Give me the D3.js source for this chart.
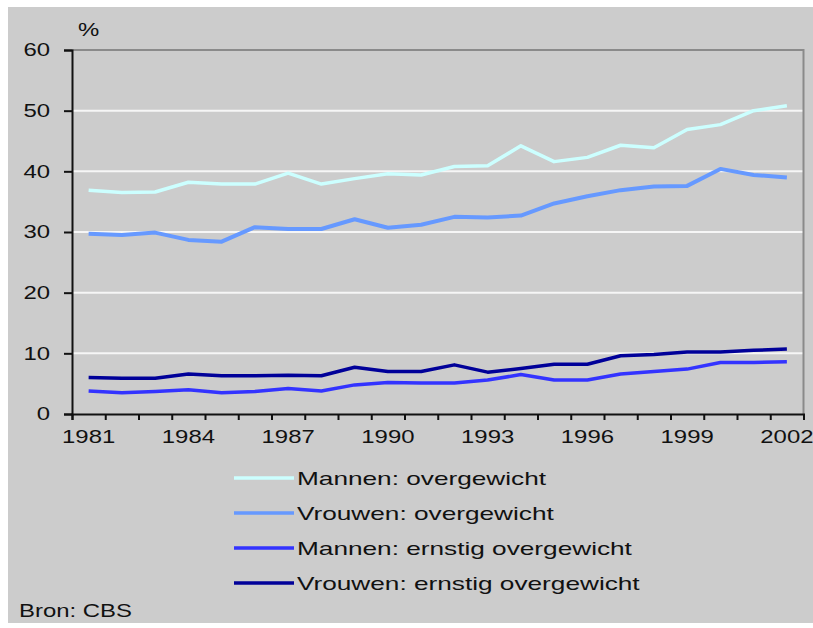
<!DOCTYPE html>
<html>
<head>
<meta charset="utf-8">
<script src="https://cdn.jsdelivr.net/npm/d3@7"></script>
<style>
  body { margin: 0; background: #fff; }
  text { font-family: "Liberation Sans", Arial, sans-serif; fill: #111; }
</style>
</head>
<body>
<div id="chart"></div>
<script>
// data
let years = d3.range(1981, 2003);
let yearLabels = [1981, 1984, 1987, 1990, 1993, 1996, 1999, 2002];
let yTicks = [0, 10, 20, 30, 40, 50, 60];

let mannenOvergewicht = [36.9, 36.5, 36.6, 38.2, 37.9, 37.9, 39.7, 37.9, 38.8, 39.6, 39.4,
                         40.8, 40.9, 44.2, 41.6, 42.3, 44.3, 43.9, 46.9, 47.7, 50.0, 50.8];
let vrouwenOvergewicht = [29.7, 29.5, 29.9, 28.7, 28.4, 30.8, 30.5, 30.5, 32.1, 30.7, 31.2,
                          32.5, 32.4, 32.7, 34.7, 35.9, 36.9, 37.5, 37.6, 40.4, 39.4, 39.0];
let mannenErnstig = [3.8, 3.5, 3.7, 4.0, 3.5, 3.7, 4.2, 3.8, 4.8, 5.2, 5.1,
                     5.1, 5.6, 6.5, 5.6, 5.6, 6.6, 7.0, 7.4, 8.5, 8.5, 8.6];
let vrouwenErnstig = [6.0, 5.9, 5.9, 6.6, 6.3, 6.3, 6.4, 6.3, 7.7, 7.0, 7.0,
                      8.1, 6.9, 7.5, 8.2, 8.2, 9.6, 9.8, 10.2, 10.2, 10.5, 10.7];

let seriesNames = ["Mannen: overgewicht", "Vrouwen: overgewicht",
                   "Mannen: ernstig overgewicht", "Vrouwen: ernstig overgewicht"];
let seriesColors = ["#ccffff", "#6699ff", "#3333ff", "#000099"];

let series = [mannenOvergewicht, vrouwenOvergewicht, mannenErnstig, vrouwenErnstig]
  .map((vals, i) => ({ name: seriesNames[i], color: seriesColors[i], values: vals }));

let width = 813, height = 628;
let plot = { left: 72, right: 803.5, top: 50, bottom: 414 };
let stretch = 1.33; // the original text is drawn horizontally stretched

let svg = d3.select("#chart")
  .append("svg")
  .attr("width", width)
  .attr("height", height);

// gray panel
svg.append("rect")
  .attr("x", 8).attr("y", 7)
  .attr("width", width - 8).attr("height", 616)
  .attr("fill", "#cccccc");

// scales
let x = d3.scaleBand()
  .domain(years)
  .range([plot.left, plot.right])
  .padding(0);
let xEdge = d3.scaleLinear()
  .domain([0, years.length])
  .range([plot.left, plot.right]);
let y = d3.scaleLinear()
  .domain([0, 60])
  .range([plot.bottom, plot.top]);

// white gridlines
svg.append("g")
  .selectAll("line")
  .data(yTicks.filter(d => d > 0 && d < 60))
  .enter()
  .append("line")
    .attr("x1", plot.left).attr("x2", plot.right)
    .attr("y1", d => y(d)).attr("y2", d => y(d))
    .attr("stroke", "#f6f6f6")
    .attr("stroke-width", 2);

// frame top + right (gray)
svg.append("path")
  .attr("d", `M${plot.left},${plot.top}H${plot.right}V${plot.bottom}`)
  .attr("fill", "none")
  .attr("stroke", "#8a8a8a")
  .attr("stroke-width", 2);

// lines
let line = d3.line()
  .x((d, i) => x(years[i]) + x.bandwidth() / 2)
  .y(d => y(d));

svg.append("g")
  .selectAll("path")
  .data(series)
  .enter()
  .append("path")
    .attr("d", d => line(d.values))
    .attr("fill", "none")
    .attr("stroke", d => d.color)
    .attr("stroke-width", (d, i) => i == 1 ? 4 : 3.5)
    .attr("stroke-linejoin", "round");

// y axis
let yAxis = svg.append("g")
  .attr("transform", `translate(${plot.left}, 0)`)
  .call(d3.axisLeft(y).tickValues(yTicks).tickSize(8).tickPadding(8.5));
yAxis.select(".domain").attr("stroke", "#111").attr("stroke-width", 2);
yAxis.selectAll(".tick line").attr("stroke", "#111").attr("stroke-width", 2);
yAxis.selectAll("text")
  .attr("font-size", "18px")
  .attr("fill", "#111")
  .attr("transform", `scale(${stretch},1)`);

// x axis: tick marks between years
let xTicks = svg.append("g")
  .attr("transform", `translate(0, ${plot.bottom})`)
  .call(d3.axisBottom(xEdge).tickValues(d3.range(years.length + 1)).tickFormat("").tickSize(6));
xTicks.select(".domain").attr("stroke", "#111").attr("stroke-width", 2);
xTicks.selectAll(".tick line").attr("stroke", "#111").attr("stroke-width", 2);

// x labels
let xLabels = svg.append("g")
  .attr("transform", `translate(0, ${plot.bottom})`)
  .call(d3.axisBottom(x).tickValues(yearLabels).tickSize(0).tickPadding(16));
xLabels.select(".domain").remove();
xLabels.selectAll("text")
  .attr("font-size", "18px")
  .attr("fill", "#111")
  .attr("transform", `scale(${stretch},1)`);

// unit
svg.append("text")
  .attr("transform", `translate(78, 36) scale(${stretch},1)`)
  .attr("font-size", "18px")
  .text("%");

// legend
let legend = svg.append("g")
  .selectAll("g")
  .data(series)
  .enter()
  .append("g")
    .attr("transform", (d, i) => `translate(234, ${478 + i * 35})`);
legend.append("line")
  .attr("x1", 0).attr("x2", 60)
  .attr("stroke", d => d.color)
  .attr("stroke-width", 3.5);
legend.append("text")
  .attr("transform", `translate(63, 7) scale(1.38,1)`)
  .attr("font-size", "19px")
  .text(d => d.name);

svg.append("text")
  .attr("transform", `translate(19, 617) scale(${stretch},1)`)
  .attr("font-size", "18px")
  .text("Bron: CBS");
</script>
</body>
</html>
